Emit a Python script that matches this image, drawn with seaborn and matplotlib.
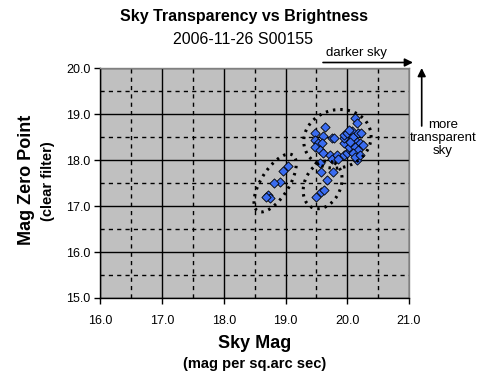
import numpy as np
import pandas as pd
import matplotlib
matplotlib.use("Agg")
import matplotlib.pyplot as plt
import seaborn as sns

# Sky Mag (x) vs Mag Zero Point (y)
sky_mag = [
    # lower-left group
    19.04, 18.96, 18.91, 18.82, 18.72, 18.75, 18.69,
    # middle lower group
    19.56, 19.58, 19.77, 19.67, 19.58, 19.63, 19.50,
    # upper right group
    20.12, 20.15, 19.64, 19.47, 19.61, 19.75, 19.79, 19.47, 19.53, 19.59,
    19.48, 19.56, 19.61, 19.72, 19.75, 19.83, 19.85, 19.94, 19.99, 20.04,
    20.02, 19.94, 19.95, 19.94, 19.99, 20.07, 20.10, 20.18, 20.23, 20.15,
    20.21, 20.26, 20.12, 20.18, 20.10, 20.15, 20.12, 20.21, 20.04, 20.02,
]
zero_point = [
    17.87, 17.77, 17.53, 17.51, 17.24, 17.17, 17.19,
    17.93, 17.75, 17.75, 17.57, 17.31, 17.35, 17.20,
    18.91, 18.80, 18.71, 18.59, 18.52, 18.47, 18.47, 18.43, 18.36, 18.38,
    18.29, 18.22, 18.16, 18.11, 18.02, 18.11, 18.02, 18.11, 18.15, 18.22,
    18.29, 18.36, 18.47, 18.54, 18.58, 18.62, 18.51, 18.58, 18.59, 18.40,
    18.36, 18.33, 18.29, 18.22, 18.15, 18.00, 18.07, 18.11, 18.40, 18.65,
]

x_ticks = [16.0, 17.0, 18.0, 19.0, 20.0, 21.0]
y_ticks = [15.0, 16.0, 17.0, 18.0, 19.0, 20.0]

df = pd.DataFrame({"sky": sky_mag, "zp": zero_point})

sns.set_theme(style="white")
plt.rcParams["font.family"] = ["Liberation Sans", "DejaVu Sans"]
plt.rcParams["text.color"] = "black"
plt.rcParams["xtick.color"] = "black"
plt.rcParams["ytick.color"] = "black"

fig = plt.figure(figsize=(4.89, 3.90), dpi=100)
ax = fig.add_axes([0.2055, 0.2359, 0.6309, 0.5897])
ax.set_facecolor("#c0c0c0")

ax.set_xlim(16, 21)
ax.set_ylim(15, 20)
ax.set_xticks(x_ticks)
ax.set_yticks(y_ticks)
ax.set_xticklabels([f"{v:.1f}" for v in x_ticks], fontsize=9)
ax.set_yticklabels([f"{v:.1f}" for v in y_ticks], fontsize=9)
ax.set_xticks(np.arange(16.5, 21, 1.0), minor=True)
ax.set_yticks(np.arange(15.5, 20, 1.0), minor=True)
ax.grid(which="major", color="black", linewidth=1.0, linestyle="-")
ax.grid(which="minor", color="black", linewidth=1.0, linestyle=(0, (3, 3)))
ax.set_axisbelow(True)
ax.tick_params(which="major", direction="out", length=4, width=1, color="black",
               bottom=True, left=True, pad=3)
ax.tick_params(which="minor", length=0)
ax.tick_params(axis="x", pad=8)
for s in ["left", "bottom"]:
    ax.spines[s].set_color("black")
    ax.spines[s].set_linewidth(1)
for s in ["top", "right"]:
    ax.spines[s].set_color("#808080")
    ax.spines[s].set_linewidth(1)

sns.scatterplot(data=df, x="sky", y="zp", ax=ax, marker="D", s=22,
                color="#3a6cf0", edgecolor="black", linewidth=0.6, zorder=3)
ax.set_xlabel("")
ax.set_ylabel("")

# dotted ellipses around the groups (sizes in pixels, converted to data units)
px_x = 61.7
px_y = 46.0


def ring(cx, cy, a, b, ang):
    t = np.linspace(0, 2 * np.pi, 200)
    th = np.radians(ang)
    dx = a * np.cos(t) * np.cos(th) - b * np.sin(t) * np.sin(th)
    dy = a * np.cos(t) * np.sin(th) + b * np.sin(t) * np.cos(th)
    ax.plot(cx + dx / px_x, cy + dy / px_y, color="black", linewidth=2.2,
            linestyle=(0, (0.8, 1.6)), zorder=4)


ring(18.83, 17.50, 33, 14, 58)
ring(19.60, 17.46, 25, 18, 65)
ring(19.84, 18.46, 34, 29, 15)

# titles and labels
fig.text(0.498, 1 - 16 / 390, "Sky Transparency vs Brightness", ha="center",
         va="center", fontsize=11.5, fontweight="bold")
fig.text(0.496, 1 - 40 / 390, "2006-11-26 S00155", ha="center", va="center",
         fontsize=11.5)
fig.text(255 / 489, 1 - 344 / 390, "Sky Mag", ha="center", va="center",
         fontsize=13, fontweight="bold")
fig.text(255 / 489, 1 - 364 / 390, "(mag per sq.arc sec)", ha="center",
         va="center", fontsize=10.5, fontweight="bold")
fig.text(27 / 489, 1 - 180 / 390, "Mag Zero Point", ha="center", va="center",
         rotation=90, fontsize=13, fontweight="bold")
fig.text(48 / 489, 1 - 181 / 390, "(clear filter)", ha="center", va="center",
         rotation=90, fontsize=10.5, fontweight="bold")

# direction hints
fig.text(356 / 489, 1 - 53 / 390, "darker sky", ha="center", va="center",
         fontsize=9.5)
ax.annotate("", xy=(413 / 489, 1 - 62.5 / 390), xytext=(323 / 489, 1 - 62.5 / 390),
            xycoords="figure fraction", textcoords="figure fraction",
            arrowprops=dict(arrowstyle="-|>", color="black", lw=1.2,
                            mutation_scale=12, shrinkA=0, shrinkB=0))
ax.annotate("", xy=(421.7 / 489, 1 - 68 / 390), xytext=(421.7 / 489, 1 - 126 / 390),
            xycoords="figure fraction", textcoords="figure fraction",
            arrowprops=dict(arrowstyle="-|>", color="black", lw=1.2,
                            mutation_scale=12, shrinkA=0, shrinkB=0))
fig.text(443 / 489, 1 - 138 / 390, "more\ntransparent\nsky", ha="center",
         va="center", fontsize=9.5, linespacing=1.15)

fig.savefig("out.png", dpi=100)
